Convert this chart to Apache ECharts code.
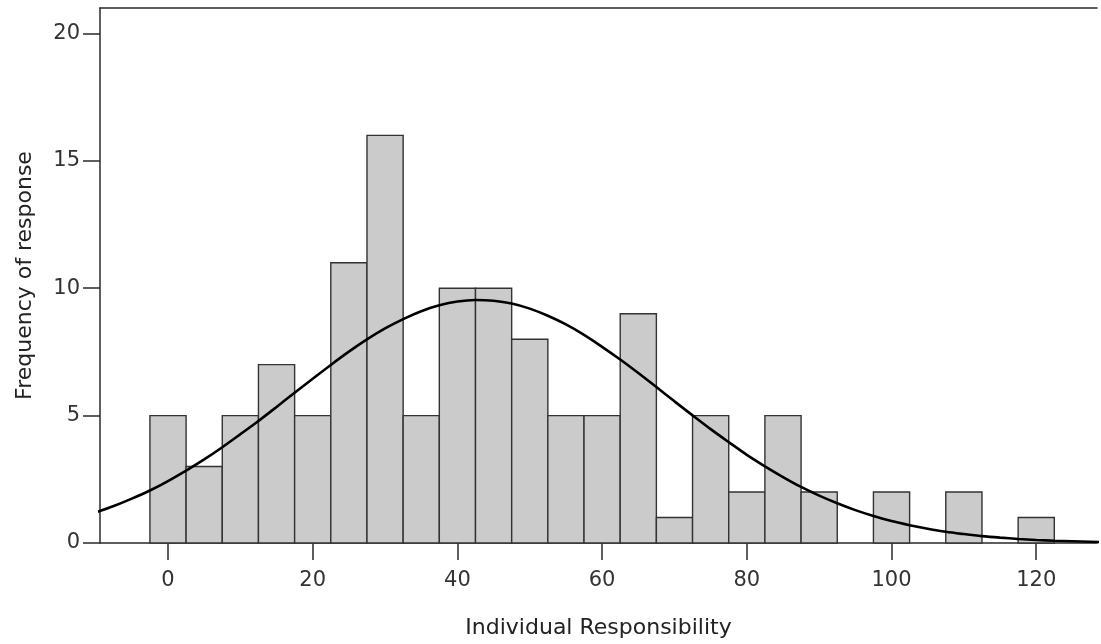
<!DOCTYPE html>
<html>
<head>
<meta charset="utf-8">
<script src="https://cdn.jsdelivr.net/npm/echarts@6/dist/echarts.min.js"></script>
<style>
html,body{margin:0;padding:0;background:#fff;}
#chart{width:1101px;height:644px;}
</style>
</head>
<body>
<div id="chart"></div>
<script>
// Histogram bins (centers) and counts
const binCenters = [0, 5, 10, 15, 20, 25, 30, 35, 40, 45, 50, 55, 60, 65, 70, 75, 80, 85, 90, 95, 100, 105, 110, 115, 120];
const counts     = [5, 3, 5, 7, 5, 11, 16, 5, 10, 10, 8, 5, 5, 9, 1, 5, 2, 5, 2, 0, 2, 0, 2, 0, 1];
const binWidth = 5;

// Fitted normal curve
const curveX = [-10, -7.5, -5, -2.5, 0, 2.5, 5, 7.5, 10, 12.5, 15, 17.5, 20, 22.5, 25, 27.5, 30, 32.5, 35, 37.5, 40, 42.5, 45, 47.5, 50, 52.5, 55, 57.5, 60, 62.5, 65, 67.5, 70, 72.5, 75, 77.5, 80, 82.5, 85, 87.5, 90, 92.5, 95, 97.5, 100, 102.5, 105, 107.5, 110, 112.5, 115, 117.5, 120, 122.5, 125, 127.5, 130];
const curveY = [1.20, 1.45, 1.74, 2.06, 2.43, 2.84, 3.28, 3.76, 4.27, 4.79, 5.34, 5.90, 6.45, 6.99, 7.51, 7.99, 8.42, 8.79, 9.10, 9.33, 9.48, 9.54, 9.51, 9.40, 9.20, 8.92, 8.58, 8.17, 7.70, 7.20, 6.67, 6.12, 5.56, 5.01, 4.47, 3.96, 3.46, 3.01, 2.59, 2.20, 1.86, 1.56, 1.29, 1.06, 0.86, 0.70, 0.56, 0.44, 0.35, 0.27, 0.21, 0.16, 0.12, 0.09, 0.07, 0.05, 0.03];

// Tick labels
const xTicks = [0, 20, 40, 60, 80, 100, 120];
const yTicks = [0, 5, 10, 15, 20];

const xTitle = 'Individual Responsibility';
const yTitle = 'Frequency of response';

const chart = echarts.init(document.getElementById('chart'), null, {renderer: 'canvas'});
const FONT = 'DejaVu Sans';
const axisColor = '#2a2a2a';
const labelColor = '#333333';

chart.setOption({
  animation: false,
  backgroundColor: '#ffffff',
  grid: {left: 100, top: 8, right: 4, bottom: 100, containLabel: false},
  xAxis: [{
    type: 'value',
    min: -9.4,
    max: 128.4,
    splitLine: {show: false},
    axisLine: {show: true, onZero: false, lineStyle: {color: axisColor, width: 1.5}},
    axisTick: {show: true, customValues: xTicks, length: 17, inside: false, lineStyle: {color: axisColor, width: 1.5}},
    axisLabel: {show: true, customValues: xTicks, margin: 27, color: labelColor, fontFamily: FONT, fontSize: 21},
    name: xTitle,
    nameLocation: 'middle',
    nameGap: 74,
    nameTextStyle: {color: '#222', fontFamily: FONT, fontSize: 22}
  }, {
    type: 'value',
    position: 'top',
    min: -9.4,
    max: 128.4,
    splitLine: {show: false},
    axisLine: {show: true, onZero: false, lineStyle: {color: axisColor, width: 1.6}},
    axisTick: {show: false},
    axisLabel: {show: false}
  }],
  yAxis: [{
    type: 'value',
    min: 0,
    max: 21,
    interval: 5,
    splitLine: {show: false},
    axisLine: {show: true, onZero: false, lineStyle: {color: axisColor, width: 1.5}},
    axisTick: {show: true, customValues: yTicks, length: 17, lineStyle: {color: axisColor, width: 1.5}},
    axisLabel: {show: true, customValues: yTicks, margin: 20, color: labelColor, fontFamily: FONT, fontSize: 21},
    name: yTitle,
    nameLocation: 'middle',
    nameGap: 64,
    nameRotate: 90,
    nameTextStyle: {color: '#222', fontFamily: FONT, fontSize: 22}
  }],
  series: [{
    type: 'custom',
    xAxisIndex: 0,
    yAxisIndex: 0,
    data: binCenters.map((c, i) => [c, counts[i]]),
    renderItem: function (params, api) {
      const c = api.value(0), v = api.value(1);
      if (!v) return null;
      const p0 = api.coord([c - binWidth / 2, v]);
      const p1 = api.coord([c + binWidth / 2, 0]);
      return {
        type: 'rect',
        shape: {x: p0[0], y: p0[1], width: p1[0] - p0[0], height: p1[1] - p0[1]},
        style: {fill: '#cbcbcb', stroke: '#333333', lineWidth: 1.4}
      };
    },
    z: 2
  }, {
    type: 'line',
    xAxisIndex: 0,
    yAxisIndex: 0,
    data: curveX.map((x, i) => [x, curveY[i]]),
    smooth: 0.3,
    showSymbol: false,
    symbol: 'none',
    clip: true,
    lineStyle: {color: '#000000', width: 2.6},
    z: 5
  }]
});
</script>
</body>
</html>
